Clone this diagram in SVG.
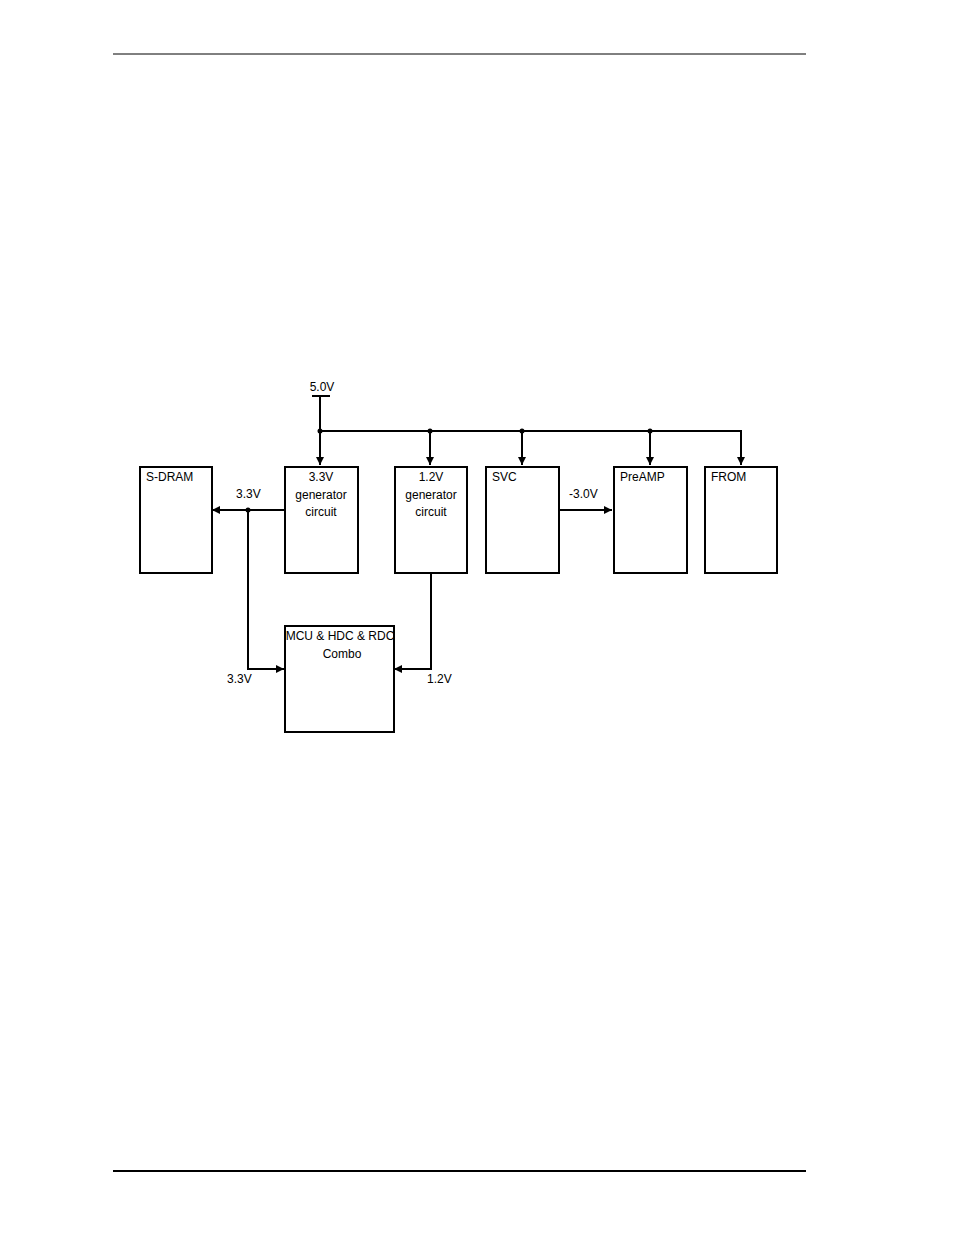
<svg xmlns="http://www.w3.org/2000/svg" width="954" height="1235" viewBox="0 0 954 1235">
<style>
.box{fill:#fff;stroke:#000;stroke-width:2}
.w{stroke:#000;stroke-width:2;fill:none}
text{font-family:"Liberation Sans",Arial,sans-serif;font-size:12px;fill:#000}
.c{text-anchor:middle}
</style>
<defs>
<marker id="a" viewBox="0 0 10 10" refX="10" refY="5" markerWidth="4" markerHeight="4" orient="auto" markerUnits="strokeWidth"><path d="M0,0L10,5L0,10z" fill="#000"/></marker>
</defs>
<rect width="954" height="1235" fill="#fff"/>
<line x1="113" y1="54" x2="806" y2="54" stroke="#000" stroke-width="1"/>
<line x1="113" y1="1171" x2="806" y2="1171" stroke="#000" stroke-width="2"/>
<g id="connectors">
<text x="322" y="391" class="c">5.0V</text>
<line x1="312" y1="396" x2="330" y2="396" class="w"/>
<line x1="320" y1="396" x2="320" y2="465" class="w" marker-end="url(#a)"/>
<polyline points="320,431 741,431 741,465" class="w" marker-end="url(#a)"/>
<line x1="430" y1="431" x2="430" y2="465" class="w" marker-end="url(#a)"/>
<line x1="522" y1="431" x2="522" y2="465" class="w" marker-end="url(#a)"/>
<line x1="650" y1="431" x2="650" y2="465" class="w" marker-end="url(#a)"/>
<g fill="#000"><circle cx="320" cy="431" r="2.5"/><circle cx="430" cy="431" r="2.5"/><circle cx="522" cy="431" r="2.5"/><circle cx="650" cy="431" r="2.5"/><circle cx="248" cy="510" r="2.5"/></g>
<line x1="285" y1="510" x2="212" y2="510" class="w" marker-end="url(#a)"/>
<polyline points="248,510 248,669 284,669" class="w" marker-end="url(#a)"/>
<polyline points="431,573 431,669 394,669" class="w" marker-end="url(#a)"/>
<line x1="559" y1="510" x2="612" y2="510" class="w" marker-end="url(#a)"/>
<text x="236" y="498">3.3V</text>
<text x="227" y="683">3.3V</text>
<text x="427" y="683">1.2V</text>
<text x="569" y="498">-3.0V</text>
</g>
<g id="sdram"><rect x="140" y="467" width="72" height="106" class="box"/><text x="146" y="481">S-DRAM</text></g>
<g id="gen33"><rect x="285" y="467" width="73" height="106" class="box"/><text x="321" y="481" class="c">3.3V</text><text x="321" y="499" class="c">generator</text><text x="321" y="516" class="c">circuit</text></g>
<g id="gen12"><rect x="395" y="467" width="72" height="106" class="box"/><text x="431" y="481" class="c">1.2V</text><text x="431" y="499" class="c">generator</text><text x="431" y="516" class="c">circuit</text></g>
<g id="svc"><rect x="486" y="467" width="73" height="106" class="box"/><text x="492" y="481">SVC</text></g>
<g id="preamp"><rect x="614" y="467" width="73" height="106" class="box"/><text x="620" y="481">PreAMP</text></g>
<g id="from"><rect x="705" y="467" width="72" height="106" class="box"/><text x="711" y="481">FROM</text></g>
<g id="mcu"><rect x="285" y="626" width="109" height="106" class="box"/><text x="340" y="640" class="c" font-size="11">MCU &amp; HDC &amp; RDC</text><text x="342" y="658" class="c">Combo</text></g>
</svg>
